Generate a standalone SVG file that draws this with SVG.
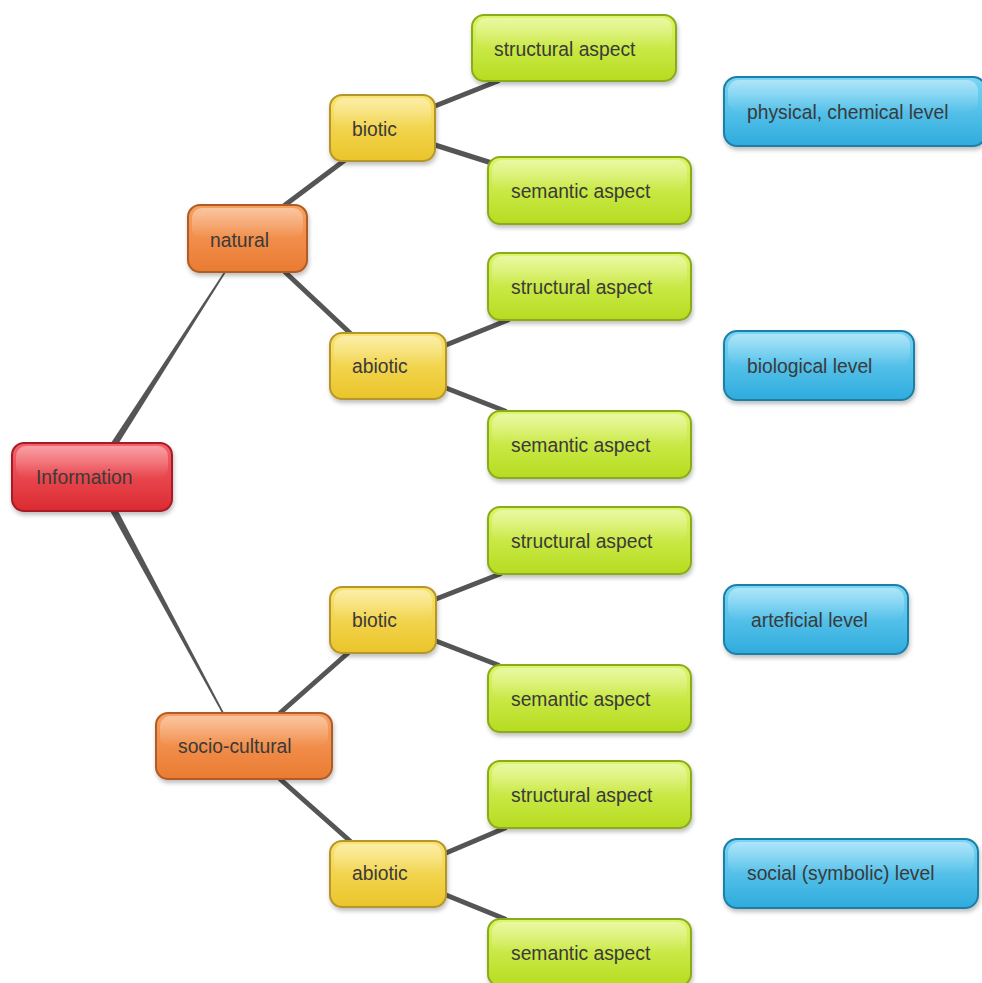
<svg xmlns="http://www.w3.org/2000/svg" width="982" height="983" viewBox="0 0 982 983">
<defs>
<linearGradient id="gRed" x1="0" y1="0" x2="0" y2="1"><stop offset="0" stop-color="#f5636a"/><stop offset="1" stop-color="#dc2a31"/></linearGradient>
<linearGradient id="gOrange" x1="0" y1="0" x2="0" y2="1"><stop offset="0" stop-color="#f8a062"/><stop offset="1" stop-color="#ea7b32"/></linearGradient>
<linearGradient id="gYellow" x1="0" y1="0" x2="0" y2="1"><stop offset="0" stop-color="#fae470"/><stop offset="1" stop-color="#eac42a"/></linearGradient>
<linearGradient id="gGreen" x1="0" y1="0" x2="0" y2="1"><stop offset="0" stop-color="#ddf56a"/><stop offset="1" stop-color="#b6dc20"/></linearGradient>
<linearGradient id="gBlue" x1="0" y1="0" x2="0" y2="1"><stop offset="0" stop-color="#7ad6f5"/><stop offset="1" stop-color="#2eabdd"/></linearGradient>
<linearGradient id="gloss" x1="0" y1="0" x2="0" y2="1"><stop offset="0" stop-color="#fff" stop-opacity="0.4"/><stop offset="1" stop-color="#fff" stop-opacity="0"/></linearGradient>
<filter id="sh" x="-10%" y="-10%" width="125%" height="135%"><feDropShadow dx="1" dy="3" stdDeviation="2" flood-color="#000" flood-opacity="0.25"/></filter>
</defs>
<style>
.box{stroke-width:2;filter:url(#sh)}
.red{fill:url(#gRed);stroke:#a51f26}
.orange{fill:url(#gOrange);stroke:#b05c25}
.yellow{fill:url(#gYellow);stroke:#b5962a}
.green{fill:url(#gGreen);stroke:#8aac1c}
.blue{fill:url(#gBlue);stroke:#1f7fa6}
.gl{fill:url(#gloss)}
text{font-family:"Liberation Sans",Arial,sans-serif;font-size:19.3px;fill:#3a3a3a}
.c{stroke:#555;stroke-width:5;stroke-linecap:round;fill:none}
.t{fill:#555}
</style>
<rect width="982" height="983" fill="#fff"/>
<g id="connectors">
<polygon class="t" points="109,446 117,446 226,272 224,272"/>
<polygon class="t" points="109,509 117,509 224,713 222,713"/>
<line class="c" x1="285" y1="205" x2="345" y2="160"/>
<line class="c" x1="285" y1="272" x2="350" y2="333"/>
<line class="c" x1="435" y1="106" x2="498" y2="81"/>
<line class="c" x1="435" y1="145" x2="498" y2="165"/>
<line class="c" x1="446" y1="345" x2="508" y2="320"/>
<line class="c" x1="446" y1="388" x2="505" y2="411"/>
<line class="c" x1="280" y1="713" x2="348" y2="653"/>
<line class="c" x1="280" y1="779" x2="350" y2="841"/>
<line class="c" x1="436" y1="599" x2="500" y2="574"/>
<line class="c" x1="436" y1="641" x2="498" y2="665"/>
<line class="c" x1="446" y1="853" x2="505" y2="828"/>
<line class="c" x1="446" y1="895" x2="505" y2="919"/>
</g>
<g id="information"><rect class="box red" x="12" y="443" width="160" height="68" rx="12"/><rect class="gl" x="16" y="446" width="152" height="32" rx="10"/><text x="36" y="484">Information</text></g>
<g id="natural"><rect class="box orange" x="188" y="205" width="119" height="67" rx="12"/><rect class="gl" x="192" y="208" width="111" height="31" rx="10"/><text x="210" y="247">natural</text></g>
<g id="socio-cultural"><rect class="box orange" x="156" y="713" width="176" height="66" rx="12"/><rect class="gl" x="160" y="716" width="168" height="31" rx="10"/><text x="178" y="753">socio-cultural</text></g>
<g id="biotic1"><rect class="box yellow" x="330" y="95" width="105" height="66" rx="12"/><rect class="gl" x="334" y="98" width="97" height="31" rx="10"/><text x="352" y="136">biotic</text></g>
<g id="abiotic1"><rect class="box yellow" x="330" y="333" width="116" height="66" rx="12"/><rect class="gl" x="334" y="336" width="108" height="31" rx="10"/><text x="352" y="373">abiotic</text></g>
<g id="biotic2"><rect class="box yellow" x="330" y="587" width="106" height="66" rx="12"/><rect class="gl" x="334" y="590" width="98" height="31" rx="10"/><text x="352" y="627">biotic</text></g>
<g id="abiotic2"><rect class="box yellow" x="330" y="841" width="116" height="66" rx="12"/><rect class="gl" x="334" y="844" width="108" height="31" rx="10"/><text x="352" y="880">abiotic</text></g>
<g id="structural1"><rect class="box green" x="472" y="15" width="204" height="66" rx="12"/><rect class="gl" x="476" y="18" width="196" height="31" rx="10"/><text x="494" y="56">structural aspect</text></g>
<g id="semantic1"><rect class="box green" x="488" y="157" width="203" height="67" rx="12"/><rect class="gl" x="492" y="160" width="195" height="31" rx="10"/><text x="511" y="198">semantic aspect</text></g>
<g id="structural2"><rect class="box green" x="488" y="253" width="203" height="67" rx="12"/><rect class="gl" x="492" y="256" width="195" height="31" rx="10"/><text x="511" y="294">structural aspect</text></g>
<g id="semantic2"><rect class="box green" x="488" y="411" width="203" height="67" rx="12"/><rect class="gl" x="492" y="414" width="195" height="31" rx="10"/><text x="511" y="452">semantic aspect</text></g>
<g id="structural3"><rect class="box green" x="488" y="507" width="203" height="67" rx="12"/><rect class="gl" x="492" y="510" width="195" height="31" rx="10"/><text x="511" y="548">structural aspect</text></g>
<g id="semantic3"><rect class="box green" x="488" y="665" width="203" height="67" rx="12"/><rect class="gl" x="492" y="668" width="195" height="31" rx="10"/><text x="511" y="706">semantic aspect</text></g>
<g id="structural4"><rect class="box green" x="488" y="761" width="203" height="67" rx="12"/><rect class="gl" x="492" y="764" width="195" height="31" rx="10"/><text x="511" y="802">structural aspect</text></g>
<g id="semantic4"><rect class="box green" x="488" y="919" width="203" height="67" rx="12"/><rect class="gl" x="492" y="922" width="195" height="31" rx="10"/><text x="511" y="960">semantic aspect</text></g>
<g id="physical"><rect class="box blue" x="724" y="77" width="262" height="69" rx="13"/><rect class="gl" x="728" y="80" width="250" height="32" rx="11"/><text x="747" y="119">physical, chemical level</text></g>
<g id="biological"><rect class="box blue" x="724" y="331" width="190" height="69" rx="13"/><rect class="gl" x="728" y="334" width="182" height="32" rx="11"/><text x="747" y="373">biological level</text></g>
<g id="arteficial"><rect class="box blue" x="724" y="585" width="184" height="69" rx="13"/><rect class="gl" x="728" y="588" width="176" height="32" rx="11"/><text x="751" y="627">arteficial level</text></g>
<g id="social"><rect class="box blue" x="724" y="839" width="254" height="69" rx="13"/><rect class="gl" x="728" y="842" width="246" height="32" rx="11"/><text x="747" y="880">social (symbolic) level</text></g>
</svg>
